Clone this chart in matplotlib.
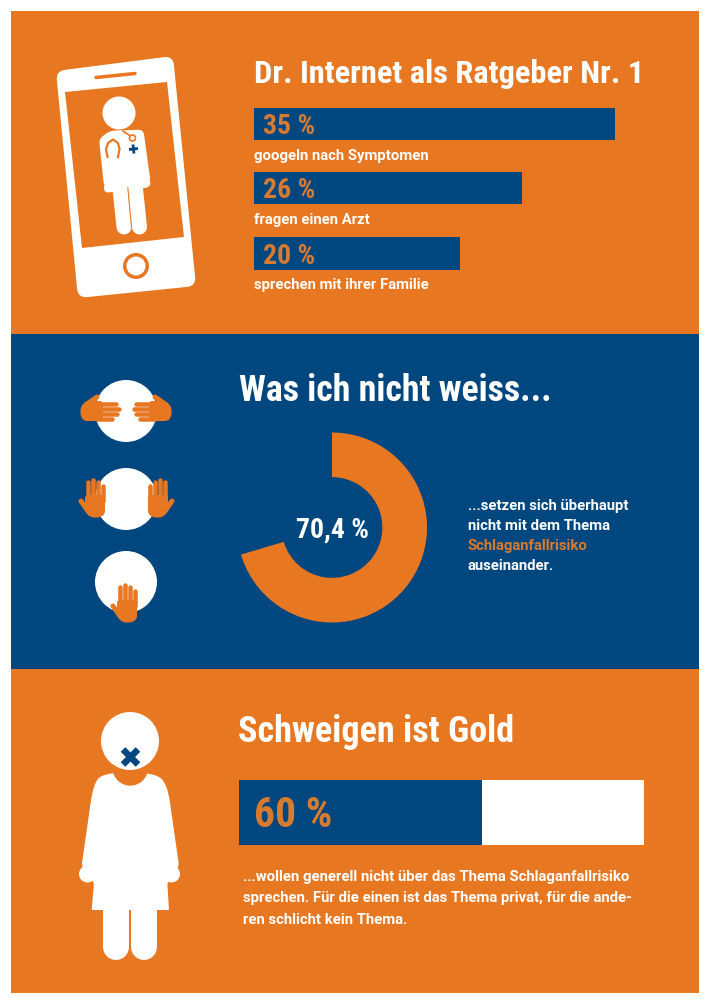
import matplotlib
matplotlib.use('Agg')
import matplotlib.pyplot as plt
from matplotlib.patches import Circle, PathPatch, Polygon, Rectangle
from matplotlib.path import Path

W, H = 710, 1004
ORANGE = '#e87722'
TEXT_ORANGE = '#d67b30'
BLUE = '#00467f'
WHITE = '#ffffff'
COND = ['Roboto Condensed', 'DejaVu Sans']
SMALL = ['Roboto', 'DejaVu Sans']

plt.rcParams['font.family'] = COND
plt.rcParams['font.weight'] = 'bold'

# data
ratgeber_labels = ['googeln nach Symptomen', 'fragen einen Arzt', 'sprechen mit ihrer Familie']
ratgeber_values = [35, 26, 20]
donut_value = 70.4
schweigen_value = 60

fig = plt.figure(figsize=(W / 100, H / 100), dpi=100, facecolor='white')
bg = fig.add_axes([0, 0, 1, 1])
bg.set_xlim(0, W)
bg.set_ylim(H, 0)
bg.axis('off')


def axes_px(x, y, w, h):
    a = fig.add_axes([x / W, 1 - (y + h) / H, w / W, h / H], zorder=3)
    a.axis('off')
    return a


def rounded(points, r, color, zorder=2):
    # closed polygon with rounded corners, r can be one value or one per point
    n = len(points)
    rs = r if isinstance(r, list) else [r] * n
    verts, codes = [], []
    for i in range(n):
        px, py = points[i]
        ax0, ay0 = points[i - 1]
        bx, by = points[(i + 1) % n]
        d0 = ((ax0 - px) ** 2 + (ay0 - py) ** 2) ** .5
        d1 = ((bx - px) ** 2 + (by - py) ** 2) ** .5
        r0 = min(rs[i], d0 / 2)
        r1 = min(rs[i], d1 / 2)
        p0 = (px + (ax0 - px) * r0 / d0, py + (ay0 - py) * r0 / d0)
        p1 = (px + (bx - px) * r1 / d1, py + (by - py) * r1 / d1)
        verts += [p0, (px, py), p1]
        codes += [Path.LINETO, Path.CURVE3, Path.CURVE3]
    codes[0] = Path.MOVETO
    verts.append(verts[0])
    codes.append(Path.CLOSEPOLY)
    bg.add_patch(PathPatch(Path(verts, codes), fc=color, ec='none', zorder=zorder))


def stroke(xs, ys, width, color, zorder=3, cap='round'):
    bg.plot(xs, ys, color=color, lw=width * 0.72, solid_capstyle=cap, zorder=zorder)


def circle(x, y, r, color, zorder=2):
    bg.add_patch(Circle((x, y), r, fc=color, ec='none', zorder=zorder))


def zoomed(points, ox, oy):
    return [(ox + a / 3, oy + b / 3) for a, b in points]


def hand(cx, cy, v, u):
    # v points along the fingers, u across the palm (thumb on the -u side)
    def p(a, b):
        return cx + a * u[0] + b * v[0], cy + a * u[1] + b * v[1]
    rounded([p(-10, 11), p(10, 11), p(10, -8), p(5, -11.5), p(-4, -11.5), p(-10, -6)], 3, ORANGE, 4)
    for off, tip in [(-7.4, 26), (-2, 28.5), (3.4, 26.5), (8, 22)]:
        x0, y0 = p(off, 5)
        x1, y1 = p(off, tip - 2)
        stroke([x0, x1], [y0, y1], 4.5, ORANGE, 4)
    x0, y0 = p(-7, -5)
    x1, y1 = p(-14, 5)
    stroke([x0, x1], [y0, y1], 5, ORANGE, 4)


# background blocks
bg.add_patch(Rectangle((11, 11.5), 688, 323.5, fc=ORANGE, ec='none'))
bg.add_patch(Rectangle((11, 335), 688, 335, fc=BLUE, ec='none'))
bg.add_patch(Rectangle((11, 670), 688, 324, fc=ORANGE, ec='none'))

# phone
rounded([(56, 72), (173, 57), (196, 287), (78, 299)], 9, WHITE)
bg.add_patch(Polygon([(65, 93), (167, 83), (184, 238), (82, 249)], fc=ORANGE, ec='none', zorder=2))
stroke([96, 135], [78.5, 74.5], 3.5, ORANGE)
circle(136, 267, 13, ORANGE, 3)
circle(136, 267, 9.5, WHITE, 3)

# doctor
circle(119, 114, 16.5, WHITE, 3)
rounded(zoomed([(207, 300), (240, 275), (340, 272), (362, 430), (222, 442)], 30, 40), 5, WHITE, 3)
rounded(zoomed([(222, 430), (362, 420), (360, 445), (222, 462)], 30, 40), 5, WHITE, 3)
stroke([120, 124], [190, 228], 15, WHITE)
stroke([135.5, 139.5], [190, 228], 15, WHITE)
stroke([127.8, 131.5], [188, 229], 1, ORANGE, 4, 'butt')
bg.plot([107.5, 106, 108, 113, 118, 119.5, 118], [158, 150, 144, 140.5, 144, 150, 158],
        color=ORANGE, lw=1.6, zorder=4)
bg.plot([123, 132], [132, 138], color=ORANGE, lw=1.3, zorder=4)
bg.add_patch(Circle((132.5, 139), 3, fc=WHITE, ec=ORANGE, lw=1.2, zorder=4))
stroke([129, 138], [150.5, 149.5], 2.8, BLUE, 4, 'butt')
stroke([133, 134], [145.5, 154.5], 2.8, BLUE, 4, 'butt')

# top bars
tops = [108.5, 172.5, 238]
for val, lab, top in zip(ratgeber_values, ratgeber_labels, tops):
    a = axes_px(254, top, 360.5, 32.5)
    a.barh([0], [val], height=1, left=0, color=BLUE)
    a.set_xlim(0, 35)
    a.set_ylim(-.5, .5)
    a.text(0.025, 0.44, '%d %%' % val, transform=a.transAxes, color=TEXT_ORANGE, fontsize=20, va='center')
    bg.text(254, top + 47.5, lab, color=WHITE, fontsize=10.7, va='center', family=SMALL)

bg.text(254, 74, 'Dr. Internet als Ratgeber Nr. 1', color=WHITE, fontsize=23.3, va='center')

# hands
for y in [412, 500, 583]:
    circle(126, y, 31, WHITE, 3)
hand(92, 412, (1, 0), (0, 1))
hand(160, 412, (-1, 0), (0, 1))
hand(95, 507, (0, -1), (1, 0))
hand(158, 507, (0, -1), (-1, 0))
hand(127, 612, (0, -1), (1, 0))

# donut
bg.text(239, 391, 'Was ich nicht weiss...', color=WHITE, fontsize=25.8, va='center')
d = axes_px(332 - 95, 528.5 - 95, 190, 190)
d.pie([donut_value, 100 - donut_value], radius=1, startangle=90, counterclock=False,
      colors=[ORANGE, 'none'], wedgeprops={'width': 0.47, 'linewidth': 0})
d.set_xlim(-1, 1)
d.set_ylim(-1, 1)
d.text(0, -0.02, '70,4 %', color=WHITE, fontsize=20, ha='center', va='center')

side_lines = ['...setzen sich überhaupt', 'nicht mit dem Thema', 'Schlaganfallrisiko', 'auseinander.']
side_colors = [WHITE, WHITE, TEXT_ORANGE, WHITE]
for i, (line, col) in enumerate(zip(side_lines, side_colors)):
    bg.text(468, 506 + i * 20, line, color=col, fontsize=10.7, va='center', family=SMALL)

# woman
circle(130, 742, 29, WHITE, 4)
rounded(zoomed([(130, 222), (285, 222), (322, 255), (357, 500), (322, 552), (327, 633), (95, 633),
                (102, 552), (65, 500), (100, 255)], 60, 700), [18, 18, 18, 3, 2, 1, 1, 2, 3, 18], WHITE, 2)
circle(87.5, 875, 8.5, WHITE, 2)
circle(171.5, 875, 8.5, WHITE, 2)
circle(130.3, 769, 17.7, ORANGE, 3)
stroke([116, 116], [905, 948], 26, WHITE, 2)
stroke([143.5, 143.5], [905, 948], 26, WHITE, 2)
stroke([123, 138], [750.5, 765.5], 6.5, BLUE, 5, 'butt')
stroke([138, 123], [750.5, 765.5], 6.5, BLUE, 5, 'butt')

# bottom bar
bg.text(238, 732, 'Schweigen ist Gold', color=WHITE, fontsize=26, va='center')
s = axes_px(239, 780.5, 405, 65)
s.barh([0], [schweigen_value], height=1, color=BLUE)
s.barh([0], [100 - schweigen_value], height=1, left=schweigen_value, color=WHITE)
s.set_xlim(0, 100)
s.set_ylim(-.5, .5)
s.text(0.037, 0.46, '%d %%' % schweigen_value, transform=s.transAxes, color=TEXT_ORANGE, fontsize=30, va='center')

bottom_lines = ['...wollen generell nicht über das Thema Schlaganfallrisiko',
                'sprechen. Für die einen ist das Thema privat, für die ande-',
                'ren schlicht kein Thema.']
for i, line in enumerate(bottom_lines):
    bg.text(243, 877 + i * 21.5, line, color=WHITE, fontsize=10.7, va='center', family=SMALL)

fig.savefig('out.png', dpi=100, facecolor='white')
